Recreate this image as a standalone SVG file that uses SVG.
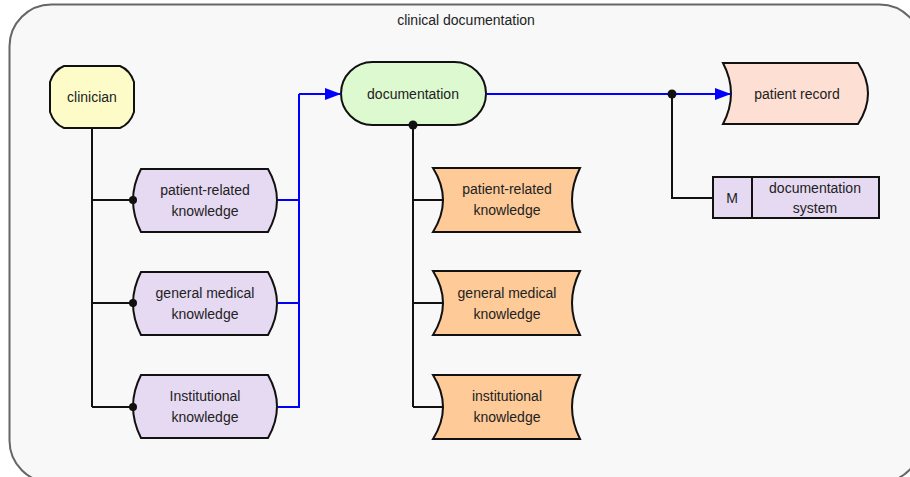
<svg xmlns="http://www.w3.org/2000/svg" width="910" height="477" viewBox="0 0 910 477">
  <defs>
    <marker id="arrow" markerUnits="userSpaceOnUse" markerWidth="16" markerHeight="12" refX="16" refY="6" orient="auto">
      <path d="M0,0 L16,6 L0,12 Z" fill="#0000ff"/>
    </marker>
    <style>
      text { font-family: "Liberation Sans", Arial, sans-serif; font-size: 14px; fill: #222; text-anchor: middle; }
      .shape { stroke: #111; stroke-width: 2; }
      .know { fill: #e6d9f2; }
      .res { fill: #fdca98; }
      .flow { fill: none; stroke: #0000ff; stroke-width: 2; }
      .link { fill: none; stroke: #111; stroke-width: 2; }
      .dot { fill: #111; }
    </style>
  </defs>

  <rect width="910" height="477" fill="#ffffff"/>

  <!-- frame -->
  <g id="frame">
    <rect x="9.5" y="4.5" width="912" height="478" rx="42" ry="42" fill="#f8f8f8" stroke="#666" stroke-width="2"/>
    <text x="466" y="25">clinical documentation</text>
  </g>

  <!-- clinician -->
  <g id="clinician">
    <path class="shape" fill="#fdfcc9" d="M50,82 Q54,70 64,66 L120,66 Q130,70 134,82 L134,112 Q130,124 120,128 L64,128 Q54,124 50,112 Z"/>
    <text x="92" y="102">clinician</text>
  </g>

  <!-- knowledge used by the clinician -->
  <g id="k-patient">
    <path class="shape know" d="M141,169 L268,169 Q286,200 268,232 L141,232 Q125,200 141,169 Z"/>
    <text x="205" y="195">patient-related</text>
    <text x="205" y="216">knowledge</text>
  </g>
  <g id="k-general">
    <path class="shape know" d="M141,272 L268,272 Q286,303.5 268,335 L141,335 Q125,303.5 141,272 Z"/>
    <text x="205" y="298">general medical</text>
    <text x="205" y="319">knowledge</text>
  </g>
  <g id="k-institutional">
    <path class="shape know" d="M141,375 L268,375 Q286,406.5 268,438 L141,438 Q125,406.5 141,375 Z"/>
    <text x="205" y="401">Institutional</text>
    <text x="205" y="422">knowledge</text>
  </g>

  <!-- documentation -->
  <g id="documentation">
    <rect class="shape" fill="#dcf9cf" x="341" y="62" width="145" height="63" rx="31.5" ry="31.5"/>
    <text x="413" y="99">documentation</text>
  </g>

  <!-- knowledge produced -->
  <g id="r-patient">
    <path class="shape res" d="M433,168 L580,168 Q564,200 580,232 L433,232 Q453,200 433,168 Z"/>
    <text x="507" y="194">patient-related</text>
    <text x="507" y="215">knowledge</text>
  </g>
  <g id="r-general">
    <path class="shape res" d="M433,271 L580,271 Q564,303 580,335 L433,335 Q453,303 433,271 Z"/>
    <text x="507" y="298">general medical</text>
    <text x="507" y="319">knowledge</text>
  </g>
  <g id="r-institutional">
    <path class="shape res" d="M433,375 L580,375 Q564,407 580,439 L433,439 Q453,407 433,375 Z"/>
    <text x="507" y="401">institutional</text>
    <text x="507" y="422">knowledge</text>
  </g>

  <!-- patient record -->
  <g id="patient-record">
    <path class="shape" fill="#fde0d3" d="M723,63 L858,63 Q878,93.5 858,124 L723,124 Q739,93.5 723,63 Z"/>
    <text x="797" y="99">patient record</text>
  </g>

  <!-- documentation system -->
  <g id="documentation-system">
    <rect class="shape" fill="#e6d9f2" x="713" y="177" width="166" height="41"/>
    <line class="shape" x1="752" y1="177" x2="752" y2="218"/>
    <text x="732" y="203">M</text>
    <text x="815" y="193">documentation</text>
    <text x="815" y="213">system</text>
  </g>

  <!-- connectors -->
  <g id="connectors">
    <path class="link" d="M92,129 L92,407 M92,200 L133,200 M92,303 L133,303 M92,407 L133,407"/>
    <circle class="dot" cx="133" cy="200" r="4"/>
    <circle class="dot" cx="133" cy="303" r="4"/>
    <circle class="dot" cx="133" cy="407" r="4"/>
    <path class="flow" d="M278,200 L299,200 M278,303 L299,303 M278,407 L299,407 L299,94"/>
    <path class="flow" d="M299,94 L341,94" marker-end="url(#arrow)"/>
    <path class="link" d="M413,125 L413,407 M413,200 L442,200 M413,303 L442,303 M413,407 L442,407"/>
    <circle class="dot" cx="413" cy="125" r="4.5"/>
    <path class="flow" d="M487,94 L731,94" marker-end="url(#arrow)"/>
    <path class="link" d="M672,94 L672,198 L712,198"/>
    <circle class="dot" cx="672" cy="94" r="4.5"/>
  </g>
</svg>
